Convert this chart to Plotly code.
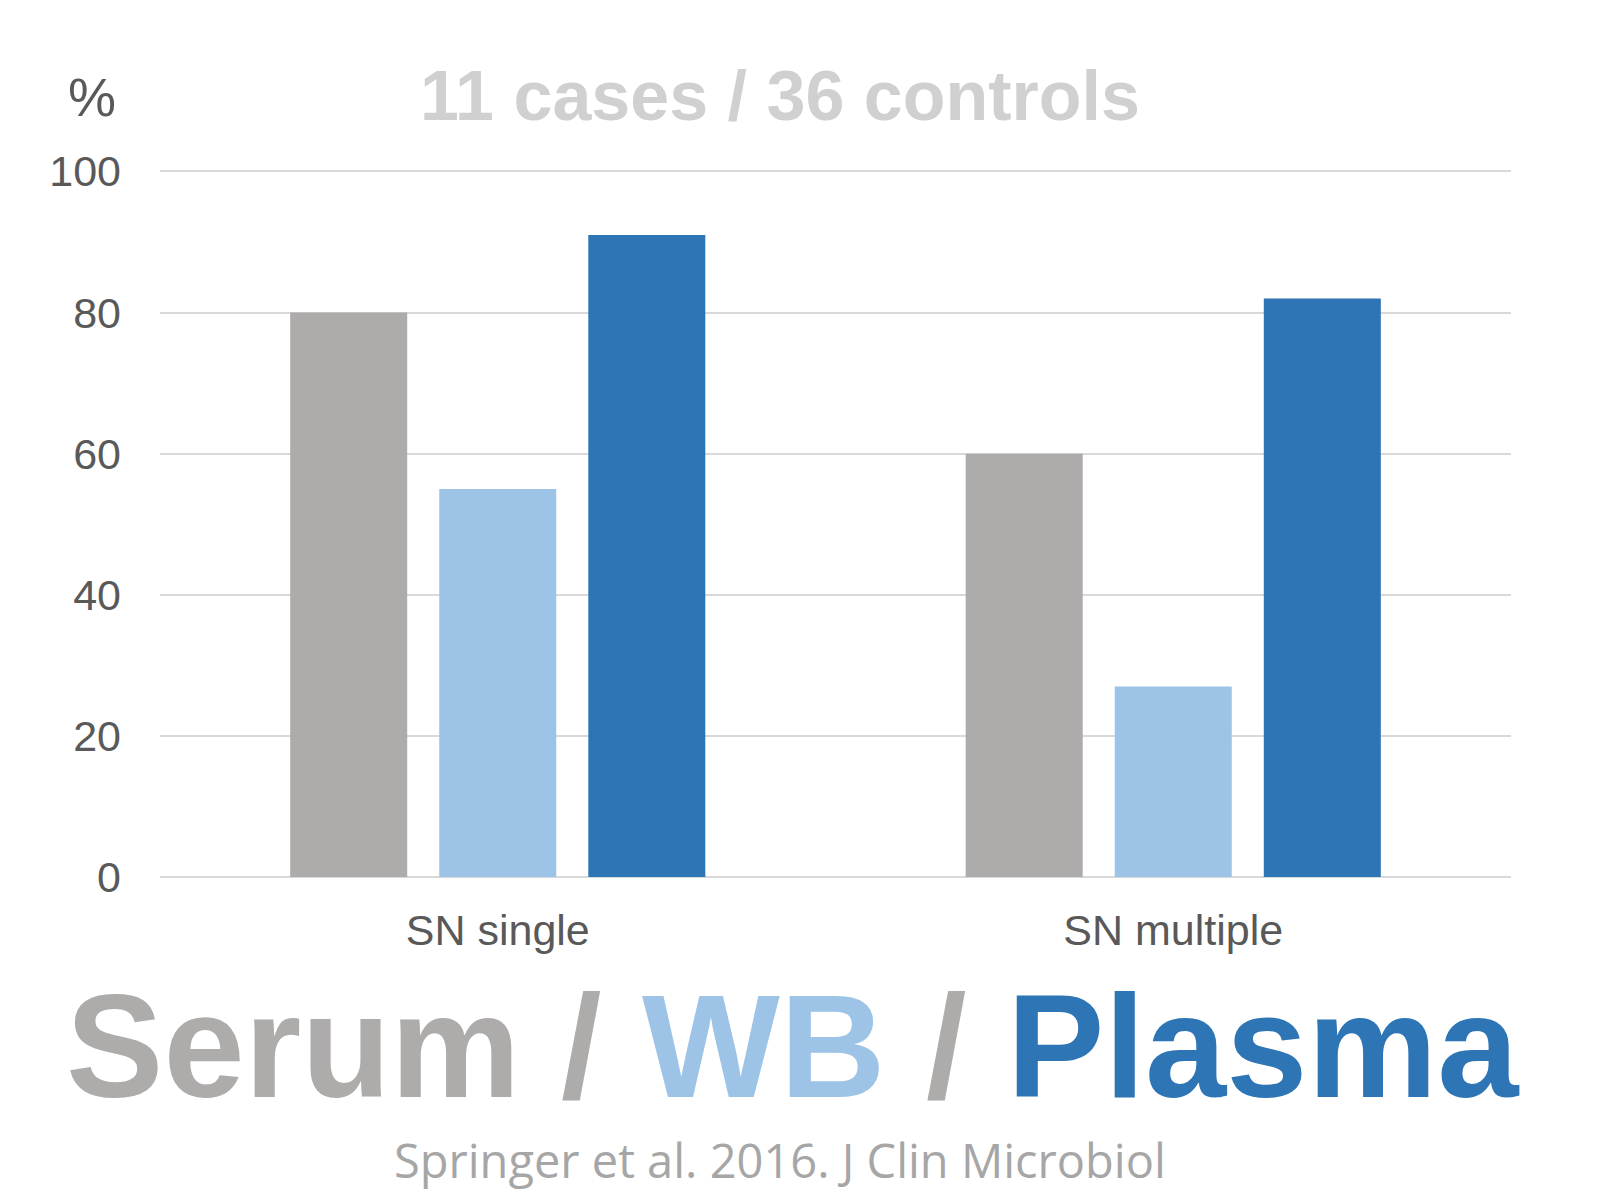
import plotly.graph_objects as go

categories = ["SN single", "SN multiple"]
serum = [80, 60]
wb = [55, 27]
plasma = [91, 82]
series_names = ["Serum", "WB", "Plasma"]
y_ticks = [0, 20, 40, 60, 80, 100]

C_GRAY = "#AEABAB"
C_LIGHT = "#9DC3E6"
C_BLUE = "#2E75B6"

W, H = 1600, 1200
OFF = 8  # page body margin
# desired plot area in page pixels: x 160..1511, y 171..877
L, R, T, B = 160 - OFF, W - (1511 - OFF), 170 - OFF, H - (877 - OFF)
YMAX = 100.2

def px_to_paper(px, py):
    px -= OFF
    py -= OFF
    return (px - L) / (W - L - R), (H - B - py) / (H - T - B)

fig = go.Figure()
for name, vals, col in zip(series_names, [serum, wb, plasma], [C_GRAY, C_LIGHT, C_BLUE]):
    fig.add_trace(go.Bar(x=categories, y=vals, name=name, marker=dict(color=col, line=dict(width=0))))

FONT = "Liberation Sans, Arial, sans-serif"

fig.update_layout(
    width=W, height=H,
    margin=dict(l=L, r=R, t=T, b=B, pad=0),
    paper_bgcolor="white", plot_bgcolor="white",
    barmode="group", bargap=0.338, bargroupgap=0.215,
    showlegend=False,
    font=dict(family=FONT, color="#595959"),
)
fig.update_yaxes(range=[0, YMAX], tickvals=y_ticks, showgrid=True, gridcolor="#D9D9D9", gridwidth=2,
                 zeroline=True, zerolinecolor="#D9D9D9", zerolinewidth=2,
                 tickfont=dict(size=43, color="#595959"), ticklabelstandoff=38, fixedrange=True)
fig.update_xaxes(showgrid=False, tickfont=dict(size=43, color="#595959"), ticklabelstandoff=24)

annotations = []
x, y = px_to_paper(92, 97)
annotations.append(dict(text="%", x=x, y=y, xref="paper", yref="paper", showarrow=False,
                        font=dict(size=54, color="#595959", family=FONT), xanchor="center", yanchor="middle"))
x, y = px_to_paper(780, 96)
annotations.append(dict(text="<b>11 cases / 36 controls</b>", x=x, y=y, xref="paper", yref="paper", showarrow=False,
                        font=dict(size=70, color="#D0D0D0", family=FONT), xanchor="center", yanchor="middle"))
x, y = px_to_paper(793, 1046)
big = (f"<b><span style='color:{C_GRAY}'>Serum / </span>"
       f"<span style='color:{C_LIGHT}'>WB</span>"
       f"<span style='color:{C_GRAY}'> / </span>"
       f"<span style='color:{C_BLUE}'>Plasma</span></b>")
annotations.append(dict(text=big, x=x, y=y, xref="paper", yref="paper", showarrow=False,
                        font=dict(size=146, family=FONT), xanchor="center", yanchor="middle"))
x, y = px_to_paper(780, 1160)
annotations.append(dict(text="Springer et al. 2016. J Clin Microbiol", x=x, y=y, xref="paper", yref="paper",
                        showarrow=False, font=dict(size=47, color="#A6A6A6", family="Open Sans, sans-serif"),
                        xanchor="center", yanchor="middle"))
fig.update_layout(annotations=annotations)

fig.write_html("out.html")
